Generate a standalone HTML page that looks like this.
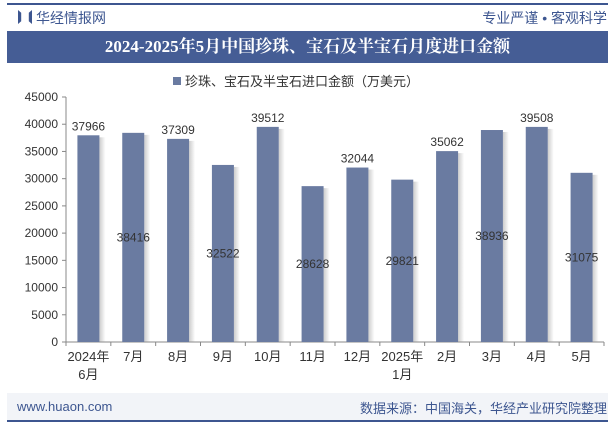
<!DOCTYPE html>
<html><head><meta charset="utf-8">
<style>
body{margin:0;background:#fff;font-family:"Liberation Sans","Noto Sans CJK SC",sans-serif;}
#wrap{position:relative;width:615px;height:427px;overflow:hidden;background:#fff;}
.abs{position:absolute;}
</style></head>
<body>
<div id="wrap">
<div class="abs" style="left:7px;top:3px;width:601px;height:2px;background:#3d5690"></div>
<div class="abs" style="left:18px;top:10px;width:8px;height:14px;background:#3d5690;clip-path:polygon(0 0,40% 20%,40% 80%,0 100%)"></div>
<div class="abs" style="left:24px;top:10px;width:8px;height:14px;background:#3d5690;clip-path:polygon(100% 0,60% 20%,60% 80%,100% 100%)"></div>
<div class="abs" style="left:36px;top:8px;font-size:14px;color:#3d5690">华经情报网</div>
<div class="abs" style="right:8px;top:8px;font-size:14px;color:#3d5690">专业严谨 • 客观科学</div>
<div class="abs" style="left:7px;top:31px;width:601px;height:32px;background:#455d95;color:#fff;font-family:'Liberation Serif','Noto Serif CJK SC',serif;font-weight:bold;font-size:17px;line-height:32px;text-align:center">2024-2025年5月中国珍珠、宝石及半宝石月度进口金额</div>
<div class="abs" style="left:7px;top:393px;width:601px;height:28px;background:#f2f4f8"></div>
<div class="abs" style="left:7px;top:420px;width:601px;height:2px;background:#3d5690"></div>
<div class="abs" style="left:17px;top:399px;font-size:13px;color:#3d5690">www.huaon.com</div>
<div class="abs" style="right:8px;top:398px;font-size:13px;color:#3d5690">数据来源：中国海关，华经产业研究院整理</div>
<svg class="abs" style="left:0;top:0" width="615" height="427" id="svg"></svg>
</div>
<script>
const categories=["2024年|6月","7月","8月","9月","10月","11月","12月","2025年|1月","2月","3月","4月","5月"];
const values=[37966,38416,37309,32522,39512,28628,32044,29821,35062,38936,39508,31075];
const ticks=[0,5000,10000,15000,20000,25000,30000,35000,40000,45000];
const NS="http://www.w3.org/2000/svg";
const svg=document.getElementById('svg');
const x0=66,x1=604,y0=342,yTop=97,maxV=45000;
const slot=(x1-x0)/categories.length;
const y=v=>y0-(v/maxV)*(y0-yTop);
const xc=i=>x0+slot*(i+0.5);
function el(t,a,txt){const e=document.createElementNS(NS,t);for(const k in a)e.setAttribute(k,a[k]);if(txt!=null)e.textContent=txt;svg.appendChild(e);return e;}
const defs=el('defs',{});
defs.innerHTML='<linearGradient id="sh" x1="0" x2="1"><stop offset="0" stop-color="#999" stop-opacity="0.5"/><stop offset="1" stop-color="#999" stop-opacity="0"/></linearGradient>';
// legend
let lg=el('rect',{x:173,y:77,width:8,height:8,fill:'#6a7ba1'});


let lt=el('text',{x:185,y:86,'font-size':13,fill:'#333'},'珍珠、宝石及半宝石进口金额（万美元）');


// y axis
let ya=el('line',{x1:x0,y1:yTop,x2:x0,y2:y0,stroke:'#888'});


ticks.forEach(t=>{
 el('line',{x1:x0-4,y1:y(t),x2:x0,y2:y(t),stroke:'#888'});
 let tx=el('text',{x:x0-8,y:y(t)+4,'font-size':12,fill:'#333','text-anchor':'end'},t);
 
 
});
let xa=el('line',{x1:x0,y1:y0,x2:x1,y2:y0,stroke:'#888'});


for(let i=0;i<=categories.length;i++)el('line',{x1:x0+slot*i,y1:y0,x2:x0+slot*i,y2:y0+4,stroke:'#888'});
const bw=22;
values.forEach((v,i)=>{
 const cx=xc(i);
 el('rect',{x:cx+bw/2,y:y(v)+2,width:6,height:y0-y(v)-2,fill:'url(#sh)'});
 let b=el('rect',{x:cx-bw/2,y:y(v),width:bw,height:y0-y(v),fill:'#6a7ba1'});
 
 
 const ly=i%2===0?y(v)-5:(y(v)+y0)/2+4;
 let t=el('text',{x:cx,y:ly,'font-size':12,fill:'#333','text-anchor':'middle'},v);
 
 
 categories[i].split('|').forEach((s,k)=>{
  let c=el('text',{x:cx,y:y0+19+k*18,'font-size':13,fill:'#333','text-anchor':'middle'},s);
  
  
 });
});
</script>
</body></html>
